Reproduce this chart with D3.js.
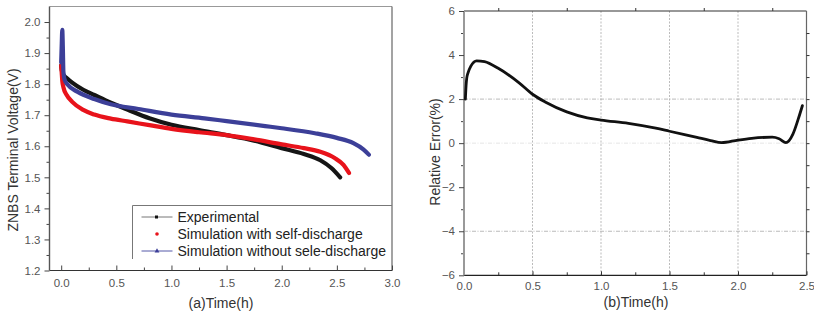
<!DOCTYPE html>
<html>
<head>
<meta charset="utf-8">
<script src="https://cdn.jsdelivr.net/npm/d3@7"></script>
<style>
  body { margin: 0; background: #fff; }
  svg { display: block; font-family: "Liberation Sans", Arial, sans-serif; }
  .tick text { fill: #555; font-size: 11.5px; }
</style>
</head>
<body>
<svg id="chart" width="814" height="321"></svg>
<script>
// (a) discharge curves
const expT = [0, 0.005, 0.02, 0.05, 0.1, 0.2, 0.3, 0.45, 0.6, 0.8, 1.0, 1.25, 1.5, 1.75, 2.0, 2.2, 2.35, 2.45, 2.53];
const expV = [1.86, 1.845, 1.83, 1.82, 1.805, 1.782, 1.765, 1.74, 1.718, 1.69, 1.669, 1.652, 1.636, 1.618, 1.594, 1.575, 1.555, 1.53, 1.50];

const selfT = [0, 0.004, 0.01, 0.02, 0.05, 0.1, 0.2, 0.3, 0.45, 0.6, 0.8, 1.0, 1.25, 1.5, 1.75, 2.0, 2.2, 2.35, 2.48, 2.56, 2.61];
const selfV = [1.86, 1.84, 1.81, 1.79, 1.765, 1.743, 1.717, 1.702, 1.689, 1.68, 1.668, 1.656, 1.645, 1.636, 1.622, 1.606, 1.594, 1.582, 1.562, 1.54, 1.514];

const noSelfT = [0, 0.005, 0.01, 0.015, 0.02, 0.03, 0.06, 0.15, 0.3, 0.45, 0.7, 1.0, 1.3, 1.5, 1.85, 2.0, 2.3, 2.5, 2.65, 2.74, 2.79];
const noSelfV = [1.87, 1.93, 1.975, 1.92, 1.84, 1.815, 1.798, 1.775, 1.752, 1.735, 1.72, 1.702, 1.69, 1.681, 1.665, 1.658, 1.642, 1.627, 1.61, 1.59, 1.573];

const legendNames = ["Experimental", "Simulation with self-discharge", "Simulation without sele-discharge"];

// (b) relative error
const errT = [0.01, 0.015, 0.02, 0.03, 0.05, 0.092, 0.15, 0.25, 0.4, 0.5, 0.6, 0.75, 0.9, 1.0, 1.2, 1.4, 1.5, 1.7, 1.8, 1.88, 2.0, 2.1, 2.25, 2.3, 2.35, 2.4, 2.44, 2.47];
const errV = [2.0, 2.6, 2.95, 3.2, 3.5, 3.74, 3.7, 3.4, 2.75, 2.22, 1.85, 1.42, 1.15, 1.05, 0.9, 0.68, 0.54, 0.26, 0.12, 0.02, 0.14, 0.22, 0.27, 0.2, 0.02, 0.4, 1.1, 1.7];

const svg = d3.select("#chart");

// ---------- chart (a) ----------
const a = { left: 49.5, right: 392, top: 6.5, bottom: 270.5 };
const xa = d3.scaleLinear().domain([-0.106, 3.0]).range([a.left, a.right]);
const ya = d3.scaleLinear().domain([1.2, 2.05]).range([a.bottom, a.top]);

const ga = svg.append("g");

// frame top/right
ga.append("line").attr("x1", a.left).attr("x2", a.right).attr("y1", a.top).attr("y2", a.top)
  .attr("stroke", "#999").attr("stroke-width", 1.2);
ga.append("line").attr("x1", a.right).attr("x2", a.right).attr("y1", a.top).attr("y2", a.bottom)
  .attr("stroke", "#666").attr("stroke-width", 1.2);

// minor ticks
ga.append("g").attr("transform", "translate(0," + a.bottom + ")")
  .call(d3.axisBottom(xa).tickValues(d3.range(0.25, 3, 0.5)).tickSize(-3).tickFormat(""))
  .call(g => g.select(".domain").remove())
  .selectAll("line").attr("stroke", "#444");
ga.append("g").attr("transform", "translate(" + a.left + ",0)")
  .call(d3.axisLeft(ya).tickValues(d3.range(1.25, 2.05, 0.1)).tickSize(3).tickFormat(""))
  .call(g => g.select(".domain").remove())
  .selectAll("line").attr("stroke", "#444");

const axBa = ga.append("g").attr("transform", "translate(0," + a.bottom + ")")
  .call(d3.axisBottom(xa).tickValues(d3.range(0, 3.01, 0.5)).tickSize(-5).tickPadding(8).tickFormat(d3.format(".1f")));
axBa.select(".domain").attr("d", "M" + a.left + ",0H" + a.right).attr("stroke", "#333").attr("stroke-width", 1.2);
axBa.selectAll("line").attr("stroke", "#444");

const axLa = ga.append("g").attr("transform", "translate(" + a.left + ",0)")
  .call(d3.axisLeft(ya).tickValues(d3.range(1.2, 2.01, 0.1)).tickSize(5).tickPadding(4).tickFormat(d3.format(".1f")));
axLa.select(".domain").attr("d", "M0," + a.bottom + "V" + a.top).attr("stroke", "#555").attr("stroke-width", 1.4);
axLa.selectAll("line").attr("stroke", "#444");

ga.append("text").attr("transform", "translate(18,150) rotate(-90)").attr("text-anchor", "middle")
  .attr("font-size", 14).attr("fill", "#333").text("ZNBS Terminal Voltage(V)");
ga.append("text").attr("x", 221).attr("y", 308).attr("text-anchor", "middle")
  .attr("font-size", 14).attr("fill", "#333").text("(a)Time(h)");

const lineA = d3.line().x(d => xa(d[0])).y(d => ya(d[1])).curve(d3.curveMonotoneX);
const seriesA = [
  { t: expT, v: expV, color: "#151515" },
  { t: selfT, v: selfV, color: "#e8131b" },
  { t: noSelfT, v: noSelfV, color: "#3c3f98" }
];
seriesA.forEach(s => {
  ga.append("path").datum(d3.zip(s.t, s.v))
    .attr("fill", "none").attr("stroke", s.color).attr("stroke-width", 4.2)
    .attr("stroke-linecap", "round").attr("d", lineA);
});

// legend (top and left border only)
const lg = ga.append("g");
lg.append("path").attr("d", "M132.5,259V205.5H" + a.right).attr("fill", "none").attr("stroke", "#777").attr("stroke-width", 1);
const legColors = ["#151515", "#e8131b", "#3c3f98"];
legendNames.forEach((name, i) => {
  const yy = 217 + i * 17;
  if (i !== 1) {
    lg.append("line").attr("x1", 141.5).attr("x2", 172.5).attr("y1", yy).attr("y2", yy)
      .attr("stroke", i === 0 ? "#777" : "#5558a8").attr("stroke-width", 1);
  }
  if (i === 0) lg.append("rect").attr("x", 155).attr("y", yy - 1.5).attr("width", 3).attr("height", 3).attr("fill", "#111");
  if (i === 1) lg.append("circle").attr("cx", 157).attr("cy", yy).attr("r", 1.8).attr("fill", legColors[1]);
  if (i === 2) lg.append("path").attr("d", d3.symbol(d3.symbolTriangle, 10)()).attr("transform", "translate(157," + yy + ")").attr("fill", legColors[2]);
  lg.append("text").attr("x", 177.5).attr("y", yy + 5).attr("font-size", 14).attr("fill", "#222").text(name);
});

// ---------- chart (b) ----------
const b = { left: 464, right: 806.5, top: 11, bottom: 275.3 };
const xb = d3.scaleLinear().domain([0, 2.5]).range([b.left, b.right]);
const yb = d3.scaleLinear().domain([-6, 6]).range([b.bottom, b.top]);
const gb = svg.append("g");

// grid
gb.append("g").selectAll("line").data([0.5, 1, 1.5, 2]).join("line")
  .attr("x1", d => xb(d)).attr("x2", d => xb(d)).attr("y1", b.top).attr("y2", b.bottom)
  .attr("stroke", "#aaa").attr("stroke-width", 0.8).attr("stroke-dasharray", "2,1.5");
gb.append("g").selectAll("line").data([2, 0, -4]).join("line")
  .attr("x1", b.left).attr("x2", b.right).attr("y1", d => yb(d)).attr("y2", d => yb(d))
  .attr("stroke", d => d === 0 ? "#ddd" : "#aaa").attr("stroke-width", 0.8).attr("stroke-dasharray", "4,1.5,1,1.5");

// frame top/right
gb.append("line").attr("x1", b.left).attr("x2", b.right).attr("y1", b.top).attr("y2", b.top)
  .attr("stroke", "#333").attr("stroke-width", 1.2);
gb.append("line").attr("x1", b.right).attr("x2", b.right).attr("y1", b.top).attr("y2", b.bottom)
  .attr("stroke", "#666").attr("stroke-width", 1.2);

// ticks on top and right
gb.append("g").attr("transform", "translate(0," + b.top + ")")
  .call(d3.axisTop(xb).tickValues(d3.range(0.25, 2.5, 0.5)).tickSize(3).tickFormat(""))
  .call(g => g.select(".domain").remove()).selectAll("line").attr("stroke", "#333");
gb.append("g").attr("transform", "translate(" + b.right + ",0)")
  .call(d3.axisRight(yb).tickValues(d3.range(-5, 6, 1)).tickSize(3).tickFormat(""))
  .call(g => g.select(".domain").remove()).selectAll("line").attr("stroke", "#333");

// minor ticks bottom/left
gb.append("g").attr("transform", "translate(0," + b.bottom + ")")
  .call(d3.axisBottom(xb).tickValues(d3.range(0.25, 2.5, 0.5)).tickSize(-3).tickFormat(""))
  .call(g => g.select(".domain").remove()).selectAll("line").attr("stroke", "#333");
gb.append("g").attr("transform", "translate(" + b.left + ",0)")
  .call(d3.axisLeft(yb).tickValues(d3.range(-5, 6, 2)).tickSize(3).tickFormat(""))
  .call(g => g.select(".domain").remove()).selectAll("line").attr("stroke", "#444");

const axBb = gb.append("g").attr("transform", "translate(0," + b.bottom + ")")
  .call(d3.axisBottom(xb).tickValues(d3.range(0, 2.51, 0.5)).tickSize(-4).tickPadding(7).tickFormat(d3.format(".1f")));
axBb.select(".domain").attr("d", "M" + b.left + ",0H" + b.right).attr("stroke", "#222").attr("stroke-width", 1.2);
axBb.selectAll("line").attr("stroke", "#333");

const axLb = gb.append("g").attr("transform", "translate(" + b.left + ",0)")
  .call(d3.axisLeft(yb).tickValues(d3.range(-6, 6.1, 2)).tickSize(5).tickPadding(4).tickFormat(d3.format("d")));
axLb.select(".domain").attr("d", "M0," + b.bottom + "V" + b.top).attr("stroke", "#999").attr("stroke-width", 2);
axLb.selectAll("line").attr("stroke", "#444");

gb.append("text").attr("transform", "translate(440,152) rotate(-90)").attr("text-anchor", "middle")
  .attr("font-size", 14).attr("fill", "#333").text("Relative Error(%)");
gb.append("text").attr("x", 636).attr("y", 307).attr("text-anchor", "middle")
  .attr("font-size", 14).attr("fill", "#333").text("(b)Time(h)");

const lineB = d3.line().x(d => xb(d[0])).y(d => yb(d[1])).curve(d3.curveMonotoneX);
gb.append("path").datum(d3.zip(errT, errV))
  .attr("fill", "none").attr("stroke", "#111").attr("stroke-width", 2.8)
  .attr("stroke-linecap", "round").attr("d", lineB);
</script>
</body>
</html>
